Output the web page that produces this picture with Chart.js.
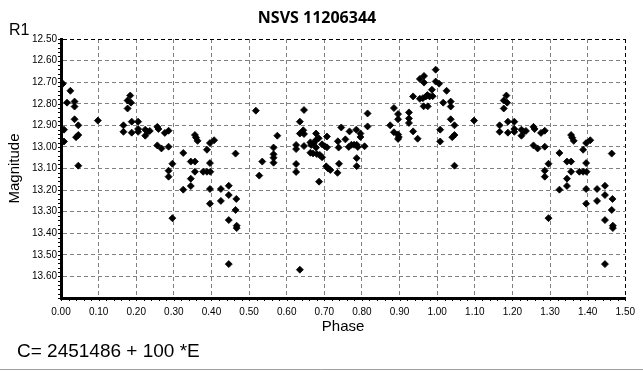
<!DOCTYPE html>
<html>
<head>
<meta charset="utf-8">
<script src="https://cdn.jsdelivr.net/npm/chart.js@4.4.1/dist/chart.umd.min.js"></script>
<style>
  html,body{margin:0;padding:0;background:#fff;}
  #wrap{width:643px;height:371px;position:relative;}
</style>
</head>
<body>
<div id="wrap"><canvas id="lc" width="643" height="371"></canvas></div>
<script>
// light curve of NSVS 11206344, phase 0..1 (points below 0.5 get repeated at +1)
const phases = [
  0.005,0.016,0.025,0.036,0.036,0.036,0.046,0.008,0.040,0.046,0.008,0.046,0.098,
  0.166,0.166,0.184,0.177,0.186,0.177,0.188,0.188,0.205,0.205,0.205,0.224,0.230,0.224,0.236,
  0.256,0.259,0.276,0.286,0.256,0.267,0.286,0.296,0.286,0.286,0.296,
  0.325,0.325,0.345,0.356,0.356,0.345,0.345,0.356,0.359,0.363,0.378,0.388,0.397,0.388,0.396,0.407,
  0.396,0.396,0.396,0.425,0.425,0.446,0.446,0.446,0.446,0.464,0.466,0.464,0.467,0.467,
  0.518,0.527,0.535,0.565,0.565,0.565,0.565,0.575,
  0.625,0.625,0.625,0.625,0.635,0.646,0.635,0.635,0.644,0.646,0.646,0.663,0.665,0.672,0.678,
  0.678,0.685,0.678,0.663,0.670,0.680,0.688,0.694,0.686,0.694,
  0.701,0.707,0.707,0.705,0.710,0.716,0.736,0.738,0.739,0.735,0.745,0.756,0.767,0.765,0.772,
  0.779,0.786,0.789,0.785,0.796,0.796,0.786,0.786,
  0.807,0.815,0.815,0.875,0.885,0.896,0.896,0.885,0.896,0.898,0.896,0.925,0.925,0.925,0.936,
  0.948,0.936,0.954,0.965,0.965,0.954,0.962,0.970,0.974,0.986,0.980,0.988,0.964,0.975,0.996,0.996
];
const mags = [
  12.707,12.795,12.740,12.790,12.813,12.872,12.900,12.920,12.955,12.945,12.975,13.087,12.878,
  12.900,12.930,12.762,12.785,12.795,12.822,12.883,12.934,12.883,12.917,12.930,12.920,12.930,12.948,12.926,
  12.907,12.917,12.935,12.925,12.993,13.007,12.999,13.078,13.110,13.138,13.330,
  13.028,13.198,13.068,13.068,13.115,13.147,13.181,12.945,12.957,12.972,13.115,13.115,13.115,13.013,12.982,12.969,
  13.075,13.195,13.263,13.195,13.250,13.180,13.223,13.339,13.543,13.031,13.241,13.292,13.365,13.376,
  12.832,13.133,13.068,13.003,13.034,13.050,13.073,12.948,
  12.991,13.010,13.079,13.116,13.569,12.829,12.883,12.938,12.923,12.940,12.996,12.979,12.991,12.982,12.938,
  12.968,12.960,13.003,13.027,13.030,13.033,13.037,13.048,13.161,12.988,
  12.997,12.952,13.002,13.090,13.100,13.107,12.974,13.003,13.078,13.120,12.910,12.965,12.928,13.000,12.990,
  12.990,12.990,13.000,12.920,12.938,12.954,13.052,13.089,
  12.997,12.845,12.905,12.900,12.820,12.848,12.872,12.932,12.942,12.954,12.963,12.840,12.868,12.889,12.928,
  12.962,12.766,12.685,12.671,12.702,12.777,12.774,12.766,12.760,12.735,12.766,12.765,12.812,12.812,12.642,12.697
];
const xTicks = [0,0.1,0.2,0.3,0.4,0.5,0.6,0.7,0.8,0.9,1.0,1.1,1.2,1.3,1.4,1.5];
const yTicks = [12.5,12.6,12.7,12.8,12.9,13.0,13.1,13.2,13.3,13.4,13.5,13.6,13.7];

const pts = [];
phases.forEach((p,i)=>{
  pts.push({x:p,y:mags[i]});
  if(p < 0.5) pts.push({x:p+1,y:mags[i]});
});

// extra text, minor ticks, bottom rule
const extras = {
  id:'extras',
  afterDraw(chart){
    const c = chart.ctx, xs = chart.scales.x, ys = chart.scales.y, a = chart.chartArea;
    c.save();
    c.fillStyle='#000';
    c.textBaseline='middle';
    c.font='bold 16px "Open Sans"';
    c.textAlign='center';
    c.fillText('NSVS 11206344', 317, 18);
    c.textAlign='left';
    c.font='16px "Liberation Sans"';
    c.fillText('R1', 9, 31);
    c.font='19px "Liberation Sans"';
    c.fillText('C= 2451486 + 100 *E', 17, 352);
    // minor ticks
    c.strokeStyle='#000'; c.lineWidth=1;
    c.beginPath();
    for(let v=0; v<=1.5001; v+=0.02){
      const px = Math.round(xs.getPixelForValue(v))+0.5;
      c.moveTo(px, a.bottom+1); c.lineTo(px, a.bottom+3);
    }
    for(let v=12.5; v<=13.7001; v+=0.02){
      const py = Math.round(ys.getPixelForValue(v))+0.5;
      c.moveTo(a.left-3, py); c.lineTo(a.left-1, py);
    }
    c.stroke();
    c.strokeStyle='#a0a0a0';
    c.beginPath(); c.moveTo(0,369.5); c.lineTo(643,369.5); c.stroke();
    c.restore();
  }
};

new Chart(document.getElementById('lc'), {
  type:'scatter',
  data:{datasets:[{
    data:pts,
    pointStyle:'rectRot',
    pointRadius:3.5,
    pointBorderWidth:0.8,
    backgroundColor:'#000',
    borderColor:'#000'
  }]},
  options:{
    responsive:false, animation:false,
    devicePixelRatio:1,
    layout:{padding:{top:39,right:12,bottom:30,left:0}},
    plugins:{legend:{display:false},tooltip:{enabled:false}},
    scales:{
      x:{
        type:'linear', min:0, max:1.5,
        afterBuildTicks:s=>{s.ticks = xTicks.map(v=>({value:v}));},
        afterFit:s=>{s.height=43;},
        ticks:{callback:v=>v.toFixed(2), color:'#000', font:{family:'"Liberation Sans"',size:10}, padding:8, maxRotation:0, autoSkip:false},
        grid:{color:c=>c.index===xTicks.length-1?'#000':'#808080', lineWidth:1, drawTicks:false},
        border:{display:true, color:'#000', width:3, dash:[4,3]},
        title:{display:true, text:'Phase', color:'#000', font:{family:'"Liberation Sans"',size:15}, padding:{top:0,bottom:5}}
      },
      y:{
        type:'linear', reverse:true, min:12.5, max:13.7,
        afterBuildTicks:s=>{s.ticks = yTicks.map(v=>({value:v}));},
        afterFit:s=>{s.width=61;},
        ticks:{callback:v=>v>13.65?'':v.toFixed(2), color:'#000', font:{family:'"Liberation Sans"',size:10}, padding:4},
        grid:{color:c=>c.index===0?'#000':'#808080', lineWidth:1, drawTicks:false},
        border:{display:true, color:'#000', width:3, dash:[4,3]},
        title:{display:true, text:'Magnitude', color:'#000', font:{family:'"Liberation Sans"',size:15}, padding:{top:6,bottom:0}}
      }
    }
  },
  plugins:[extras]
});
</script>
</body>
</html>
